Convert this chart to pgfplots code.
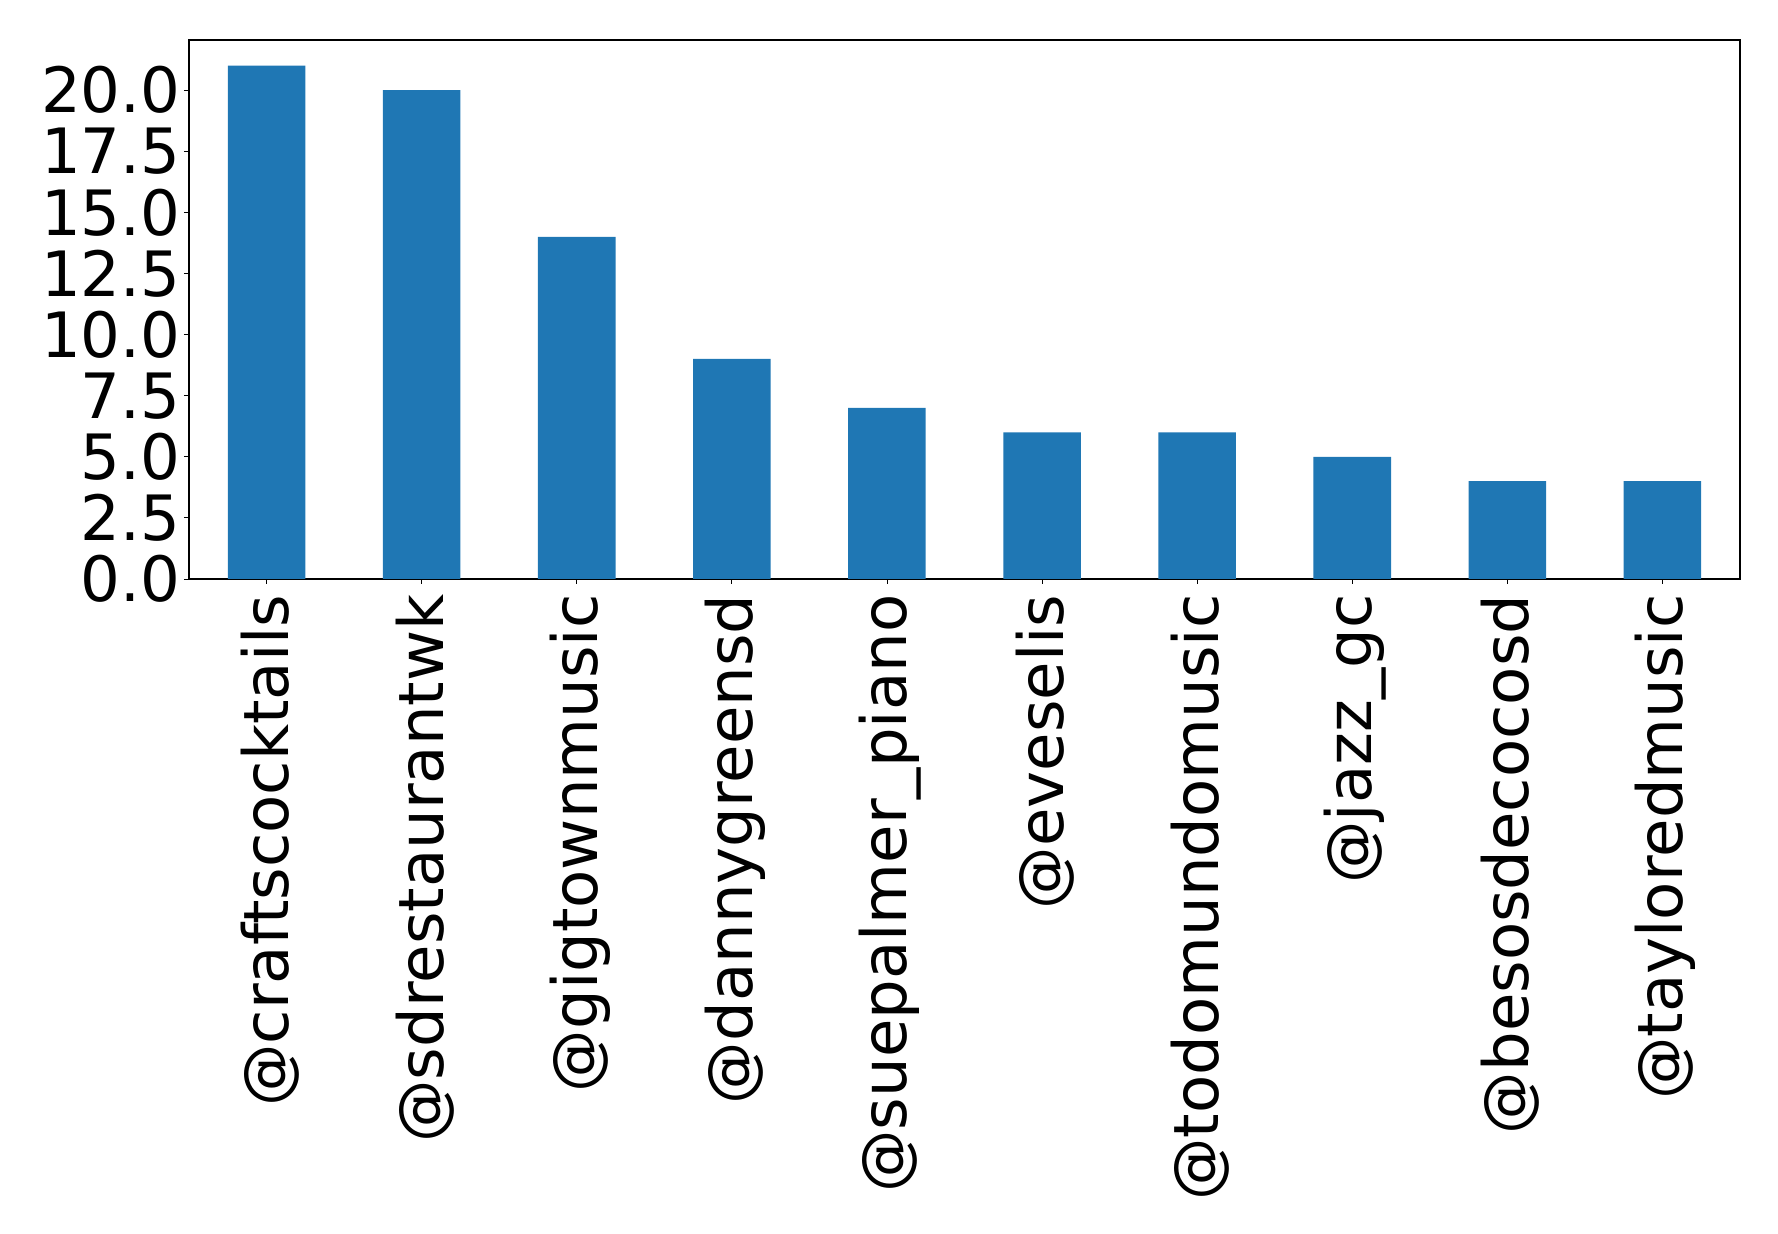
\documentclass[border=0pt]{standalone}
\usepackage{fontspec}
\setmainfont{DejaVu Sans}
\usepackage{pgfplots}
\pgfplotsset{compat=1.18}
\definecolor{barblue}{HTML}{1F77B4}
\begin{document}
\begin{tikzpicture}
% fixed canvas around the axis box (axis lower left corner at the origin)
\useasboundingbox (-94.5pt,-327.5pt) rectangle (794.5pt,289.5pt);
\begin{axis}[
  at={(0,0)}, anchor=south west,
  scale only axis, width=775.5pt, height=269.5pt,
  xmin=-0.5, xmax=9.5, ymin=0, ymax=22.05,
  xtick={0,1,2,3,4,5,6,7,8,9},
  xticklabels={@craftscocktails,@sdrestaurantwk,@gigtownmusic,@dannygreensd,@suepalmer\_piano,@eveselis,@todomundomusic,@jazz\_gc,@besosdecocosd,@tayloredmusic},
  ytick={0,2.5,5,7.5,10,12.5,15,17.5,20},
  scaled y ticks=false,
  yticklabel style={/pgf/number format/fixed, /pgf/number format/fixed zerofill, /pgf/number format/precision=1},
  /pgf/number format/assume math mode=true,
  xtick pos=bottom, ytick pos=left,
  tick align=outside, major tick length=2.5pt,
  tick style={black, line width=0.45pt},
  axis line style={line width=0.55pt},
  ticklabel style={font=\fontsize{31.25pt}{37.5pt}\selectfont, inner sep=0pt},
  % shifts below act in the rotated frame of the label
  xticklabel style={rotate=90, anchor=east, xshift=-5.1pt, yshift=-1.6pt},
  yticklabel style={xshift=-1.7pt},
]
\addplot[ybar, bar width=0.5, fill=barblue, draw=none] coordinates {
  (0,21) (1,20) (2,14) (3,9) (4,7) (5,6) (6,6) (7,5) (8,4) (9,4)
};
\end{axis}
\end{tikzpicture}
\end{document}
